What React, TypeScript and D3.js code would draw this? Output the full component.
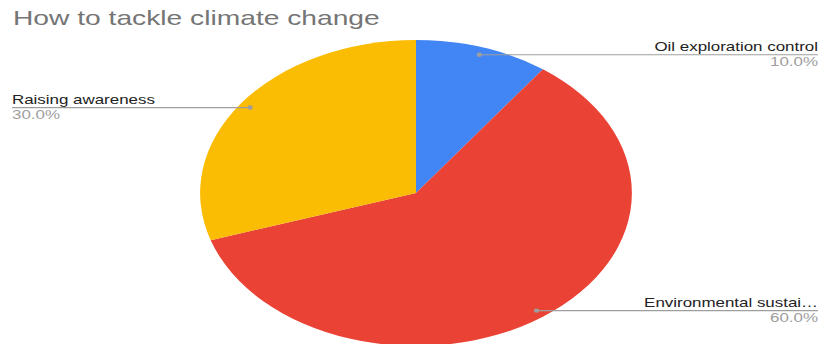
import React from "react";
import * as d3 from "d3";

const title = "How to tackle climate change";
const categories = ["Oil exploration control", "Environmental sustai…", "Raising awareness"];
const values = [10, 60, 30];
const percentLabels = ["10.0%", "60.0%", "30.0%"];
const colors = ["#4285f4", "#ea4335", "#fbbc04"];

const W = 820;
const H = 344;
const SX = 1.411; // horizontal stretch of the original chart
const IW = W / SX;

export default function App() {
  const cx = 416 / SX;
  const cy = 193;
  const r = 153;
  const pie = d3.pie<number>().sort(null).value((d) => d)(values);
  const arc = d3.arc<d3.PieArcDatum<number>>().innerRadius(0).outerRadius(r);
  const rightEdge = 818 / SX;
  const leftEdge = 12 / SX;
  const font = "'Liberation Sans', Arial, sans-serif";

  return (
    <div style={{ position: "fixed", left: 0, top: 0 }}>
      <svg
        width={W}
        height={H}
        viewBox={`0 0 ${IW} ${H}`}
        preserveAspectRatio="none"
        style={{ display: "block", background: "#fff" }}
      >
        <text x={13 / SX} y={25} fontFamily={font} fontSize={20} fill="#757575">
          {title}
        </text>
        <g transform={`translate(${cx},${cy})`}>
          {pie.map((p, i) => (
            <path key={i} d={arc(p) || ""} fill={colors[i]} />
          ))}
        </g>
        {pie.map((p, i) => {
          const mid = (p.startAngle + p.endAngle) / 2;
          const px = cx + 0.95 * r * Math.sin(mid);
          const py = cy - 0.95 * r * Math.cos(mid);
          const right = px > cx;
          const lx = right ? rightEdge : leftEdge;
          return (
            <g key={i}>
              <line x1={px} y1={py} x2={lx} y2={py} stroke="#9e9e9e" strokeWidth={1.2} />
              <ellipse cx={px} cy={py} rx={2.2 / SX * 1.2} ry={2.2} fill="#9e9e9e" />
              <text
                x={lx}
                y={py - 3.8}
                textAnchor={right ? "end" : "start"}
                fontFamily={font}
                fontSize={12}
                fill="#222222"
              >
                {categories[i]}
              </text>
              <text
                x={lx}
                y={py + 11}
                textAnchor={right ? "end" : "start"}
                fontFamily={font}
                fontSize={12}
                fill="#9e9e9e"
              >
                {percentLabels[i]}
              </text>
            </g>
          );
        })}
      </svg>
    </div>
  );
}
